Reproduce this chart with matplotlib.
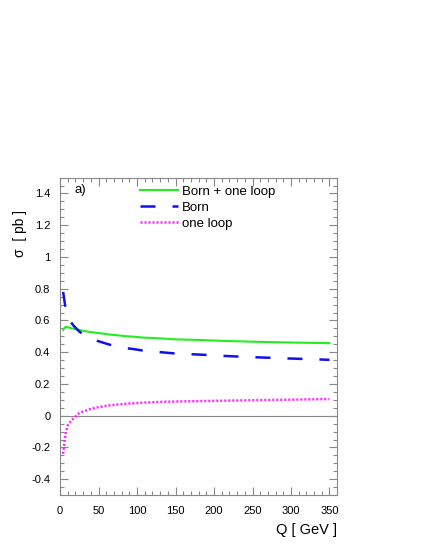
import numpy as np
import matplotlib
matplotlib.use("Agg")
import matplotlib.pyplot as plt
from matplotlib.ticker import MultipleLocator

plt.rcParams['font.family'] = ['Liberation Sans', 'DejaVu Sans']

# values
q = [4, 7, 10, 14, 17, 25, 28, 38, 48, 64, 67, 88, 95, 108, 131, 149, 181, 220, 260, 300, 350]
born = [0.78, 0.68, 0.63, 0.59, 0.57, 0.53, 0.52, 0.49, 0.472, 0.448, 0.445, 0.424, 0.42, 0.41,
        0.40, 0.392, 0.385, 0.375, 0.367, 0.36, 0.352]
loop = [-0.24, -0.114, -0.061, -0.035, -0.019, 0.016, 0.022, 0.04, 0.052, 0.065, 0.066, 0.076,
        0.078, 0.082, 0.087, 0.089, 0.092, 0.095, 0.098, 0.101, 0.105]
total = [0.54, 0.56, 0.557, 0.552, 0.548, 0.54, 0.537, 0.528, 0.522, 0.512, 0.51, 0.50,
         0.498, 0.492, 0.487, 0.481, 0.477, 0.47, 0.465, 0.461, 0.457]

fig = plt.figure(figsize=(4.29, 5.55), dpi=100)
ax = fig.add_axes([0.140, 0.108, 0.646, 0.572])

ax.axhline(0, color="#888888", lw=0.8)
ax.plot(q, total, color="#22ee22", lw=1.5, label="Born + one loop")
ax.plot(q, born, color="#1010ee", lw=1.8, dashes=(6, 6.8), label="Born")
ax.plot(q, loop, color="#ff22ff", lw=1.8, linestyle=(0, (0.8, 0.8)), label="one loop")

ax.set_xlim(0, 360)
ax.set_ylim(-0.5, 1.5)
ax.xaxis.set_major_locator(MultipleLocator(50))
ax.xaxis.set_minor_locator(MultipleLocator(10))
ax.yaxis.set_major_locator(MultipleLocator(0.2))
ax.yaxis.set_minor_locator(MultipleLocator(0.05))
ax.set_yticks([-0.4, -0.2, 0, 0.2, 0.4, 0.6, 0.8, 1, 1.2, 1.4])
ax.set_yticklabels(["-0.4", "-0.2", "0", "0.2", "0.4", "0.6", "0.8", "1", "1.2", "1.4"])
ax.tick_params(which="both", direction="in", top=True, right=True, colors="#888888",
               labelcolor="black", labelsize=8)
ax.tick_params(which="major", length=6, width=0.8)
ax.tick_params(which="minor", length=3, width=0.8)
ax.tick_params(axis="x", pad=8)
ax.tick_params(axis="y", pad=7)
for s in ax.spines.values():
    s.set_color("#888888")

ax.text(19, 1.40, "a)", fontsize=9.5)
ax.legend(loc="upper left", bbox_to_anchor=(0.26, 1.0), frameon=False, fontsize=9.5,
          handlelength=2.9, handletextpad=0.3, labelspacing=0.28, borderaxespad=0.2)

fig.text(0.786, 0.038, "Q [ GeV ]", ha="right", fontsize=10.5)
fig.text(0.03, 0.58, "σ  [ pb ]", rotation=90, va="center", fontsize=10)

fig.savefig("out.png", dpi=100)
